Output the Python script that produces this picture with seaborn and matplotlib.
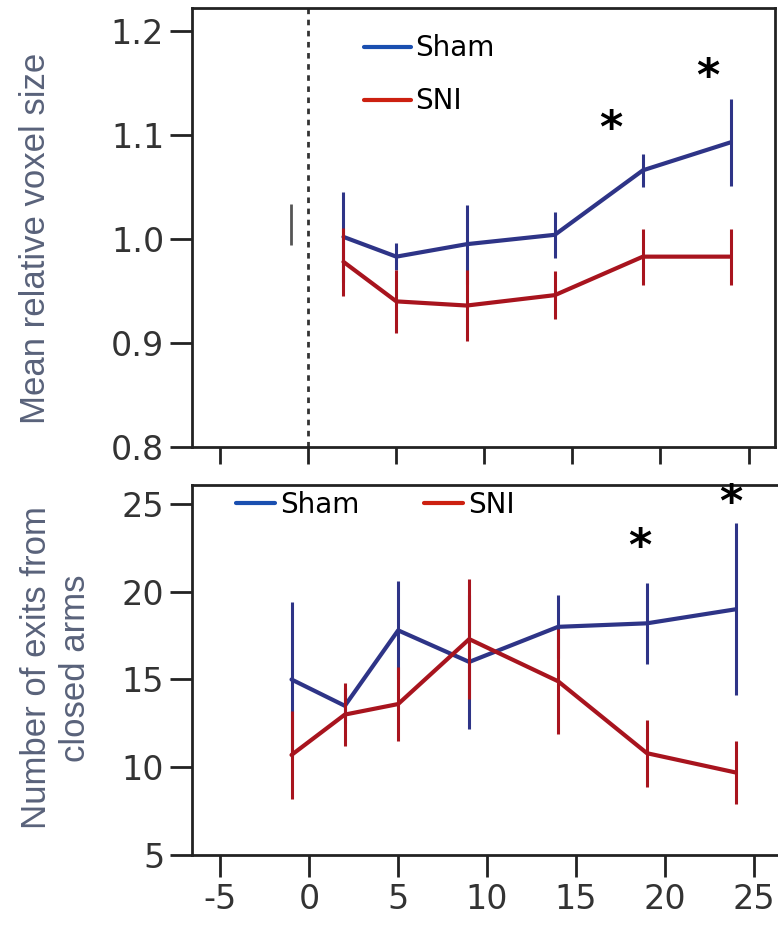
import matplotlib
matplotlib.use("Agg")
import matplotlib.pyplot as plt
from matplotlib.lines import Line2D
import seaborn as sns
import pandas as pd

# ---- data ----
groups = ["Sham", "SNI"]
top_days = [2, 5, 9, 14, 19, 24]
top_sham = [1.002, 0.983, 0.995, 1.004, 1.066, 1.093]
top_sham_err = [0.043, 0.013, 0.038, 0.022, 0.016, 0.042]
top_sni = [0.978, 0.940, 0.936, 0.946, 0.983, 0.983]
top_sni_err = [0.033, 0.030, 0.034, 0.023, 0.027, 0.027]
baseline_day = -1
baseline_range = [0.994, 1.034]

bot_days = [-1, 2, 5, 9, 14, 19, 24]
bot_sham = [15.0, 13.5, 17.8, 16.0, 18.0, 18.2, 19.0]
bot_sham_err = [4.4, 1.0, 2.8, 3.8, 1.8, 2.3, 4.9]
bot_sni = [10.7, 13.0, 13.6, 17.3, 14.9, 10.8, 9.7]
bot_sni_err = [2.5, 1.8, 2.1, 3.4, 3.0, 1.9, 1.8]

x_ticks = [-5, 0, 5, 10, 15, 20, 25]
top_yticks = [0.8, 0.9, 1.0, 1.1, 1.2]
bot_yticks = [5, 10, 15, 20, 25]
top_ylabel = "Mean relative voxel size"
bot_ylabel = "Number of exits from\nclosed arms"

# ---- style ----
sns.set_style("white")
plt.rcParams["font.family"] = ["DejaVu Sans"]
line_colors = {"Sham": "#2e3487", "SNI": "#a8141e"}
legend_colors = {"Sham": "#1a4fb0", "SNI": "#cc2010"}
label_color = "#59627a"
tick_color = "#333333"

fig = plt.figure(figsize=(7.78, 9.34), dpi=100)
ax1 = fig.add_axes([0.2468, 0.5214, 0.7493, 0.4700])
ax2 = fig.add_axes([0.2468, 0.0846, 0.7560, 0.3961])

def make_df(days, sham, sni):
    return pd.DataFrame({
        "day": list(days) + list(days),
        "value": list(sham) + list(sni),
        "group": ["Sham"] * len(days) + ["SNI"] * len(days),
    })

def style_axes(ax, ylim, yticks, show_xlabels):
    ax.set_xlim(-6.6, 26.5)
    ax.set_ylim(*ylim)
    ax.set_xticks(x_ticks)
    ax.set_yticks(yticks)
    if show_xlabels:
        ax.set_xticklabels([str(t) for t in x_ticks])
    else:
        ax.set_xticklabels([])
    for s in ax.spines.values():
        s.set_linewidth(2)
        s.set_color("#222222")
    ax.tick_params(axis="both", direction="out", length=16, width=2,
                   color="#222222", labelsize=24, labelcolor=tick_color, pad=4,
                   bottom=True, left=True)
    ax.set_xlabel("")

# ---- top panel ----
df1 = make_df(top_days, top_sham, top_sni)
sns.lineplot(data=df1, x="day", y="value", hue="group", palette=line_colors,
             hue_order=groups, lw=3, legend=False, ax=ax1)
ax1.errorbar(top_days, top_sham, yerr=top_sham_err, fmt="none",
             ecolor=line_colors["Sham"], elinewidth=2.2, capsize=0)
ax1.errorbar(top_days, top_sni, yerr=top_sni_err, fmt="none",
             ecolor=line_colors["SNI"], elinewidth=2.2, capsize=0)
ax1.vlines(baseline_day, baseline_range[0], baseline_range[1],
           color="#555555", lw=2)
ax1.axvline(0, color="#333333", lw=2, ls=(0, (2, 2)))
style_axes(ax1, (0.8, 1.222), top_yticks, False)
ax1.tick_params(axis="x", length=12)
ax1.set_yticklabels([f"{v:.1f}" for v in top_yticks])
ax1.set_ylabel("")
ax1.text(17.2, 1.105, "*", fontsize=32, fontweight="bold", color="black",
         ha="center", va="center")
ax1.text(22.7, 1.155, "*", fontsize=32, fontweight="bold", color="black",
         ha="center", va="center")
h1 = [Line2D([0], [0], color=legend_colors[g], lw=3) for g in groups]
leg1 = ax1.legend(h1, groups, loc="upper left", bbox_to_anchor=(0.295, 0.94),
                  frameon=False, fontsize=20, handlelength=1.7, handletextpad=0.15,
                  labelspacing=0.9, borderpad=0, borderaxespad=0)
for t in leg1.get_texts():
    t.set_color("black")

# ---- bottom panel ----
df2 = make_df(bot_days, bot_sham, bot_sni)
sns.lineplot(data=df2, x="day", y="value", hue="group", palette=line_colors,
             hue_order=groups, lw=3, legend=False, ax=ax2)
ax2.errorbar(bot_days, bot_sham, yerr=bot_sham_err, fmt="none",
             ecolor=line_colors["Sham"], elinewidth=2.2, capsize=0)
ax2.errorbar(bot_days, bot_sni, yerr=bot_sni_err, fmt="none",
             ecolor=line_colors["SNI"], elinewidth=2.2, capsize=0)
style_axes(ax2, (5, 26.08), bot_yticks, True)
ax2.spines["right"].set_visible(False)
ax2.set_ylabel("")
ax2.text(18.6, 22.5, "*", fontsize=32, fontweight="bold", color="black",
         ha="center", va="center")
ax2.text(23.7, 25.0, "*", fontsize=32, fontweight="bold", color="black",
         ha="center", va="center")
h2 = [Line2D([0], [0], color=legend_colors[g], lw=3) for g in groups]
leg2 = ax2.legend(h2, groups, loc="upper left", bbox_to_anchor=(0.075, 0.985), ncol=2,
                  frameon=False, fontsize=20, handlelength=1.4, handletextpad=0.2,
                  columnspacing=2.3, borderpad=0, borderaxespad=0)
for t in leg2.get_texts():
    t.set_color("black")

# ---- y labels ----
fig.text(0.045, 0.745, top_ylabel, rotation=90, ha="center", va="center",
         fontsize=25, color=label_color, family=["Liberation Sans", "DejaVu Sans"])
fig.text(0.072, 0.285, bot_ylabel, rotation=90, ha="center", va="center",
         fontsize=25, color=label_color, linespacing=1.2,
         family=["Liberation Sans", "DejaVu Sans"])

fig.savefig("out.png", dpi=100)
